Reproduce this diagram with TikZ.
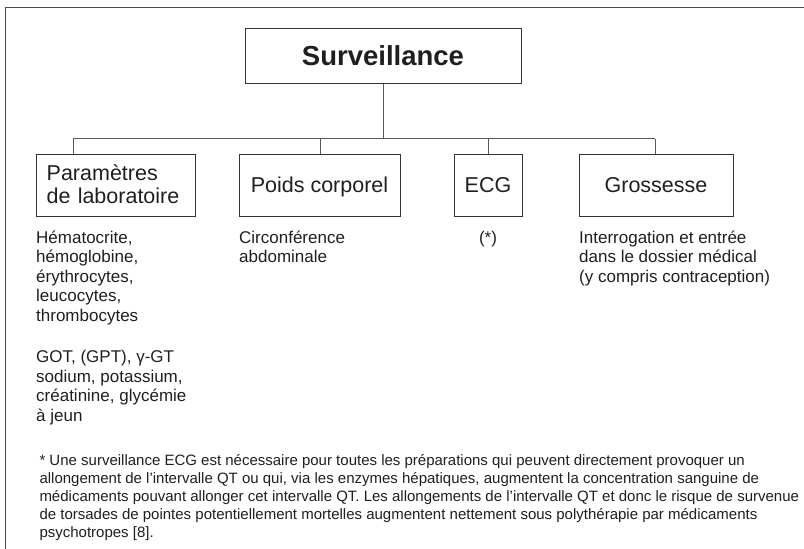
\documentclass[tikz,border=0pt]{standalone}
\usepackage{fontspec}
\setmainfont{Liberation Sans}
\begin{document}
\begin{tikzpicture}[x=1pt,y=-1pt,
  ink/.style={text=black!88},
  box/.style={draw=black!80,line width=0.9pt,inner sep=0pt,ink},
  conn/.style={draw=black!65,line width=0.9pt},
  frame/.style={draw=black!70,line width=1.4pt},
  lbl/.style={font=\fontsize{21.5}{23}\selectfont,text height=14,text depth=0},
  body/.style={anchor=base west,inner sep=0pt,align=left,ink,font=\fontsize{17}{19.5}\selectfont},
  foot/.style={anchor=base west,inner sep=0pt,align=left,ink,font=\fontsize{15}{18}\selectfont}]
\useasboundingbox (0,0) rectangle (804,549);
% frame
\draw[frame] (5.5,549) -- (5.5,7.5) -- (804,7.5);
% root
\node[box,minimum width=276,minimum height=55,font=\fontsize{27.5}{30}\selectfont\bfseries] (sv) at (383,55.8) {Surveillance};
% children
\node[box,lbl,align=left,text width=137.6,text height=14,text depth=24,minimum width=159,minimum height=62] (p1) at (115.5,185) {Paramètres\\de laboratoire};
\node[box,lbl,minimum width=161,minimum height=62] (p2) at (319.5,185) {Poids corporel};
\node[box,lbl,minimum width=68,minimum height=62] (p3) at (488,185) {ECG};
\node[box,lbl,minimum width=154,minimum height=62] (p4) at (656,185) {Grossesse};
% bus
\coordinate (j0) at (383,138.5);
\coordinate (j1) at (73,138.5);
\coordinate (j2) at (320,138.5);
\coordinate (j3) at (488,138.5);
\coordinate (j4) at (655,138.5);
\draw[conn] (sv.south) -- (j0);
\draw[conn] (j1) -- (j4);
\draw[conn] (j1) -- (j1 |- p1.north);
\draw[conn] (j2) -- (j2 |- p2.north);
\draw[conn] (j3) -- (j3 |- p3.north);
\draw[conn] (j4) -- (j4 |- p4.north);
% body texts (anchored at the last line's baseline)
\node[body] (t1) at (36,321) {Hématocrite,\\hémoglobine,\\érythrocytes,\\leucocytes,\\thrombocytes};
\node[body] (t2) at (36,421) {GOT, (GPT), γ-GT\\sodium, potassium,\\créatinine, glycémie\\à jeun};
\node[body] (t3) at (239,262.5) {Circonférence\\abdominale};
\node[body,anchor=base] (t4) at (488,243) {(*)};
\node[body] (t5) at (579,282) {Interrogation et entrée\\dans le dossier médical\\(y compris contraception)};
% footnote
\node[foot] (fn) at (39.3,537) {* Une surveillance ECG est nécessaire pour toutes les préparations qui peuvent directement provoquer un\\allongement de l’intervalle QT ou qui, via les enzymes hépatiques, augmentent la concentration sanguine de\\médicaments pouvant allonger cet intervalle QT. Les allongements de l’intervalle QT et donc le risque de survenue\\de torsades de pointes potentiellement mortelles augmentent nettement sous polythérapie par médicaments\\psychotropes [8].};
\end{tikzpicture}
\end{document}
